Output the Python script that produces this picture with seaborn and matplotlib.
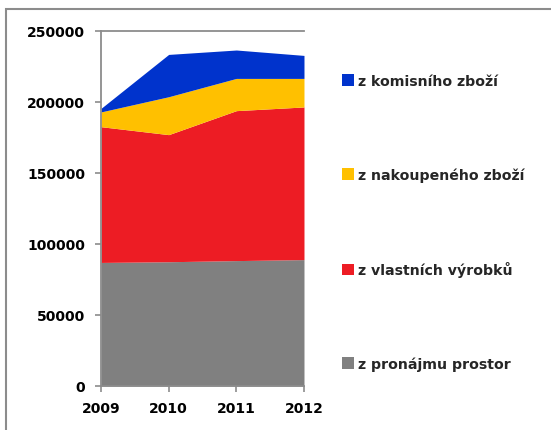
import matplotlib
matplotlib.use('Agg')
import matplotlib.pyplot as plt
import seaborn as sns
from matplotlib.patches import Rectangle

# --- data ---
years = [2009, 2010, 2011, 2012]
pronajem = [87000, 87500, 88300, 89000]
vlastni = [95600, 89500, 105600, 107500]
nakoupene = [10400, 26700, 22700, 20100]
komisni = [2500, 29800, 20000, 16200]

labels = ["z pronájmu prostor", "z vlastních výrobků",
          "z nakoupeného zboží", "z komisního zboží"]
colors = ["#808080", "#ED1C24", "#FFC000", "#0033CC"]
y_ticks = [0, 50000, 100000, 150000, 200000, 250000]

sns.set_theme(style="white")
plt.rcParams['font.family'] = ['DejaVu Sans']

fig = plt.figure(figsize=(5.51, 4.31), dpi=100)
ax = fig.add_axes([0.1833, 0.1021, 0.3684, 0.8237])

polys = ax.stackplot(years, pronajem, vlastni, nakoupene, komisni,
                     colors=colors, labels=labels, linewidth=0)

ax.set_xlim(2009, 2012)
ax.set_ylim(0, 250000)
ax.set_xticks(years)
ax.set_xticklabels([str(y) for y in years])
ax.set_yticks(y_ticks)
ax.set_yticklabels([str(v) for v in y_ticks])

axis_col = "#8C8C8C"
for side in ["left", "bottom", "top"]:
    ax.spines[side].set_visible(True)
    ax.spines[side].set_color(axis_col)
    ax.spines[side].set_linewidth(1.3)
ax.spines["right"].set_visible(False)

ax.tick_params(axis="both", which="major", direction="out", length=4.5,
               width=1.2, color=axis_col, labelsize=10, labelcolor="black")
ax.tick_params(axis="y", left=True, pad=7)
ax.tick_params(axis="x", bottom=True, pad=6.5)
for lab in ax.get_xticklabels() + ax.get_yticklabels():
    lab.set_fontweight("bold")

handles = polys[::-1]
leg = ax.legend(handles, labels[::-1], loc="upper left",
                bbox_to_anchor=(342 / 551, 1 - 75 / 431),
                bbox_transform=fig.transFigure,
                frameon=False, fontsize=10.2, labelspacing=5.6,
                handlelength=0.85, handleheight=0.85, handletextpad=0.3,
                borderpad=0, borderaxespad=0)
for t in leg.get_texts():
    t.set_fontweight("bold")

# outer chart frame (only its top and left edges fall inside the picture)
fig.patches.append(Rectangle((6 / 551, -0.5), 3.0, 1.5 - 10 / 431,
                             transform=fig.transFigure, fill=False,
                             edgecolor="#8C8C8C", linewidth=1.5))

fig.savefig("out.png", dpi=100)
